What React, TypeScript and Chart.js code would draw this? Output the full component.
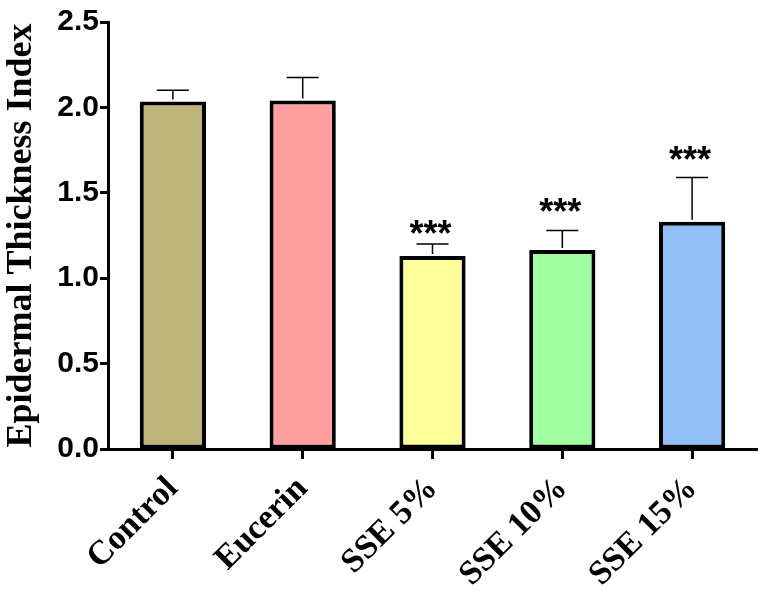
import { useEffect, useRef } from 'react';
import { Chart, registerables } from 'chart.js';
Chart.register(...registerables);

const groups = ['Control', 'Eucerin', 'SSE 5%', 'SSE 10%', 'SSE 15%'];
const means = [2.035, 2.04, 1.13, 1.165, 1.33];
const sems = [0.065, 0.135, 0.07, 0.115, 0.26];
const marks = ['', '', '***', '***', '***'];
const markLevels = [0, 0, 1.295, 1.42, 1.73];
const fills = ['#bfb47a', '#ffa0a0', '#ffff99', '#a0ff9f', '#91bff7'];
const yTicks = [0, 0.5, 1, 1.5, 2, 2.5];

// error bars (upper only) and significance stars
const errorBars = {
  id: 'errorBars',
  afterDatasetsDraw(chart: any) {
    const { ctx } = chart;
    const y = chart.scales.y;
    const meta = chart.getDatasetMeta(0);
    ctx.save();
    meta.data.forEach((bar: any, i: number) => {
      const top = y.getPixelForValue(means[i]);
      const cap = y.getPixelForValue(means[i] + sems[i]);
      ctx.strokeStyle = '#000';
      ctx.lineWidth = 1.5;
      ctx.beginPath();
      ctx.moveTo(bar.x, top - 2);
      ctx.lineTo(bar.x, cap);
      ctx.moveTo(bar.x - 16, cap);
      ctx.lineTo(bar.x + 16, cap);
      ctx.stroke();
      if (marks[i]) {
        ctx.fillStyle = '#000';
        ctx.font = 'bold 36px "Liberation Sans"';
        ctx.textAlign = 'center';
        ctx.textBaseline = 'alphabetic';
        // asterisks sit high in the em box, so drop the baseline below the centre
        ctx.fillText(marks[i], bar.x - 2, y.getPixelForValue(markLevels[i]) + 18);
      }
    });
    ctx.restore();
  },
};

export default function App() {
  const canvasRef = useRef<HTMLCanvasElement>(null);
  const chartRef = useRef<Chart | null>(null);

  useEffect(() => {
    document.body.style.margin = '0';
    if (!canvasRef.current) return;
    if (chartRef.current) chartRef.current.destroy();

    chartRef.current = new Chart(canvasRef.current, {
      type: 'bar',
      data: {
        labels: groups,
        datasets: [{
          data: means,
          backgroundColor: fills,
          borderColor: '#000',
          borderWidth: 4,
          borderSkipped: false,
          categoryPercentage: 1,
          barPercentage: 0.51,
        }],
      },
      options: {
        responsive: false,
        animation: false,
        layout: { padding: { left: 0, top: 22, right: 6, bottom: 0 } },
        plugins: { legend: { display: false }, tooltip: { enabled: false } },
        scales: {
          x: {
            grid: { display: true, drawOnChartArea: false, offset: false, color: '#000', tickLength: 10, tickWidth: 3 },
            border: { color: '#000', width: 3 },
            ticks: {
              color: '#000',
              minRotation: 45,
              maxRotation: 45,
              padding: 10,
              font: { family: '"Liberation Serif"', size: 34, weight: 'bold' },
            },
            afterFit: (s: any) => { s.height = 145; },
          },
          y: {
            min: 0,
            max: 2.5,
            afterBuildTicks: (s: any) => { s.ticks = yTicks.map(v => ({ value: v })); },
            grid: { display: true, drawOnChartArea: false, color: '#000', tickLength: 8, tickWidth: 3 },
            border: { color: '#000', width: 3 },
            ticks: {
              color: '#000',
              padding: 1,
              callback: (v: any) => Number(v).toFixed(1),
              font: { family: '"Liberation Sans"', size: 30, weight: 'bold' },
            },
            title: {
              display: true,
              text: 'Epidermal Thickness Index',
              color: '#000',
              padding: { top: 0, bottom: 4 },
              font: { family: '"Liberation Serif"', size: 36, weight: 'bold' },
            },
            afterFit: (s: any) => { s.width = 108; },
          },
        },
      },
      plugins: [errorBars],
    });

    return () => { chartRef.current?.destroy(); };
  }, []);

  return (
    <div style={{ width: 763, height: 594, background: '#fff' }}>
      <canvas ref={canvasRef} width={763} height={594} role="img" aria-label="Epidermal thickness bar chart" />
    </div>
  );
}
